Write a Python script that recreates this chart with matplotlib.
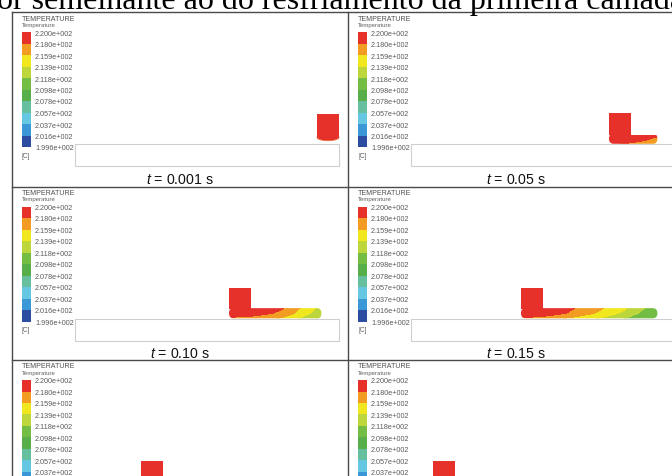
import matplotlib
matplotlib.use("Agg")
import matplotlib.pyplot as plt
import numpy as np
from matplotlib.colors import ListedColormap, BoundaryNorm
from matplotlib.cm import ScalarMappable
from matplotlib.patches import Rectangle, Ellipse, FancyBboxPatch

plt.rcParams['font.family'] = ['Liberation Sans', 'DejaVu Sans']
plt.rcParams['mathtext.fontset'] = 'custom'
plt.rcParams['mathtext.it'] = 'Liberation Sans:italic'
plt.rcParams['mathtext.rm'] = 'Liberation Sans'

# legend levels (deg C) and band colours, low to high
levels = [199.6, 201.6, 203.7, 205.7, 207.8, 209.8, 211.8, 213.9, 215.9, 218.0, 220.0]
band_colors = ['#2c4c9f', '#3b98d6', '#66c7e3', '#66c0a0', '#58ae49',
               '#74bd45', '#bdd63c', '#f1e71f', '#f39c24', '#e6302a']

times = ['0.001', '0.05', '0.10', '0.15', '0.20', '0.25']
nozzle_x = [55, 45, 35, 25, 15, 5]      # mm, left edge of the nozzle
nozzle_temp = 220.0
layer_end = 56.0                          # mm, start of the deposited strand

# temperature through the deposited strand: top, middle and bottom surface
layer_pos = [
    None,
    [45, 49, 53, 56],
    [35, 41, 47, 51, 54.5, 56],
    [25, 31, 37, 43.5, 49, 52, 56],
    [15, 22, 28, 35, 42, 49, 56],
    [5, 13, 21, 30, 39, 48, 56],
]
layer_top = [
    None,
    [220, 220, 219.6, 218.5],
    [220, 219.8, 218.2, 216, 214, 213.2],
    [220, 219.8, 218.1, 216, 214, 212.2, 211],
    [220, 219.5, 217.8, 215.5, 213, 210.8, 209.8],
    [220, 219.3, 217.3, 214.8, 212.3, 210.2, 209.3],
]
layer_mid = [
    None,
    [219.6, 219.2, 218.4, 217],
    [219.5, 219, 217.5, 215.3, 213.3, 212.5],
    [219.6, 219.2, 217.5, 215.3, 213.2, 211.6, 210.5],
    [219.4, 218.8, 217, 214.7, 212.2, 210.2, 209.4],
    [219.3, 218.6, 216.5, 214, 211.6, 209.8, 209],
]
layer_bot = [
    None,
    [218.5, 217.8, 216.8, 215.6],
    [217.6, 217, 215.6, 213.8, 212, 211.3],
    [217.8, 216.8, 215.3, 213.5, 211.6, 210.5, 209.8],
    [217.5, 216.3, 214.5, 212.5, 210.6, 209.4, 208.9],
    [217.4, 216, 214, 212, 210.2, 209.1, 208.6],
]

cmap = ListedColormap(band_colors)
norm = BoundaryNorm(levels, cmap.N)

W, H = 672, 477
PW, PH = 336, 174
col_x = [12, 348]
row_y = [13, 187.5, 361]

fig = plt.figure(figsize=(W / 100, H / 100), dpi=100)

# page background: caption fragment and panel frame lines
bg = fig.add_axes([0, 0, 1, 1])
bg.set_xlim(0, W)
bg.set_ylim(H, 0)
bg.axis('off')
bg.text(-3, 8.5, 'or semelhante ao do resfriamento da primeira camada',
        family='Liberation Serif', fontsize=23, va='baseline', ha='left')
line_kw = dict(color='#4a4a4a', lw=1.0)
bg.plot([12, W], [13, 13], **line_kw)
bg.plot([12, 12], [13, H], **line_kw)
bg.plot([348, 348], [13, H], **line_kw)
for y in row_y[1:]:
    bg.plot([12, W], [y, y], **line_kw)


def fig_rect(x, y, w, h):
    return [x / W, 1 - (y + h) / H, w / W, h / H]


for i, t in enumerate(times):
    x0 = col_x[i % 2]
    y0 = row_y[i // 2]
    ax = fig.add_axes(fig_rect(x0, y0, PW, PH))
    # data in mm: substrate runs 0..60 mm, 4.4 px per mm
    ax.set_xlim(-63 / 4.4, (PW - 63) / 4.4)
    ax.set_ylim(-(PH - 132) / 4.4, 132 / 4.4)
    ax.axis('off')

    def px(x, y):
        return x / PW, 1 - y / PH

    ax.text(*px(10, 6), 'TEMPERATURE', transform=ax.transAxes, fontsize=5.1,
            color='#505050', va='center')
    ax.text(*px(10, 12.5), 'Temperature', transform=ax.transAxes, fontsize=4.3,
            color='#606060', va='center')
    ax.text(*px(10, 143), '[C]', transform=ax.transAxes, fontsize=4.8,
            color='#606060', va='center')
    ax.text(*px(168, 166.5), f'$t$ = {t} s', transform=ax.transAxes,
            fontsize=10.2, ha='center', va='center', color='#111111')

    # legend bar
    cax = fig.add_axes(fig_rect(x0 + 10, y0 + 20, 9, 115))
    cb = fig.colorbar(ScalarMappable(norm=norm, cmap=cmap), cax=cax, ticks=levels)
    cb.outline.set_visible(False)
    cb.set_ticklabels([f'{v / 100:.3f}e+002' for v in levels])
    cax.tick_params(length=0, labelsize=5.2, labelcolor='#5a5a5a', pad=3)

    # substrate plate
    ax.add_patch(Rectangle((0, -5), 60, 5, facecolor='white',
                           edgecolor='#cfcfcf', lw=0.8, zorder=1))

    red = cmap(norm(nozzle_temp))
    nx = nozzle_x[i]
    if layer_pos[i] is None:
        ax.add_patch(Rectangle((nx, 1.5), 5, 5.3, facecolor=red,
                               edgecolor='none', zorder=3))
        ax.add_patch(Ellipse((nx + 2.5, 1.5), 5, 1.5, facecolor=red,
                             edgecolor='#ee6a2a', lw=0.5, zorder=2))
        continue

    # deposited strand, banded like the legend
    xs = np.array(layer_pos[i])
    X = np.vstack([xs, xs, xs])
    Y = np.vstack([np.zeros_like(xs), np.full_like(xs, 1.2), np.full_like(xs, 2.4)])
    Z = np.vstack([layer_bot[i], layer_mid[i], layer_top[i]])
    cs = ax.contourf(X, Y, Z, levels=levels, colors=band_colors, zorder=2)
    clip = FancyBboxPatch((nx, 0.05), layer_end - nx, 2.3,
                          boxstyle='round,pad=0,rounding_size=1.1',
                          facecolor='none', edgecolor='none',
                          transform=ax.transData)
    ax.add_patch(clip)
    cs.set_clip_path(clip)

    ax.add_patch(Rectangle((nx, 2.1), 5, 4.9, facecolor=red,
                           edgecolor='none', zorder=3))

fig.savefig('out.png', dpi=100)
